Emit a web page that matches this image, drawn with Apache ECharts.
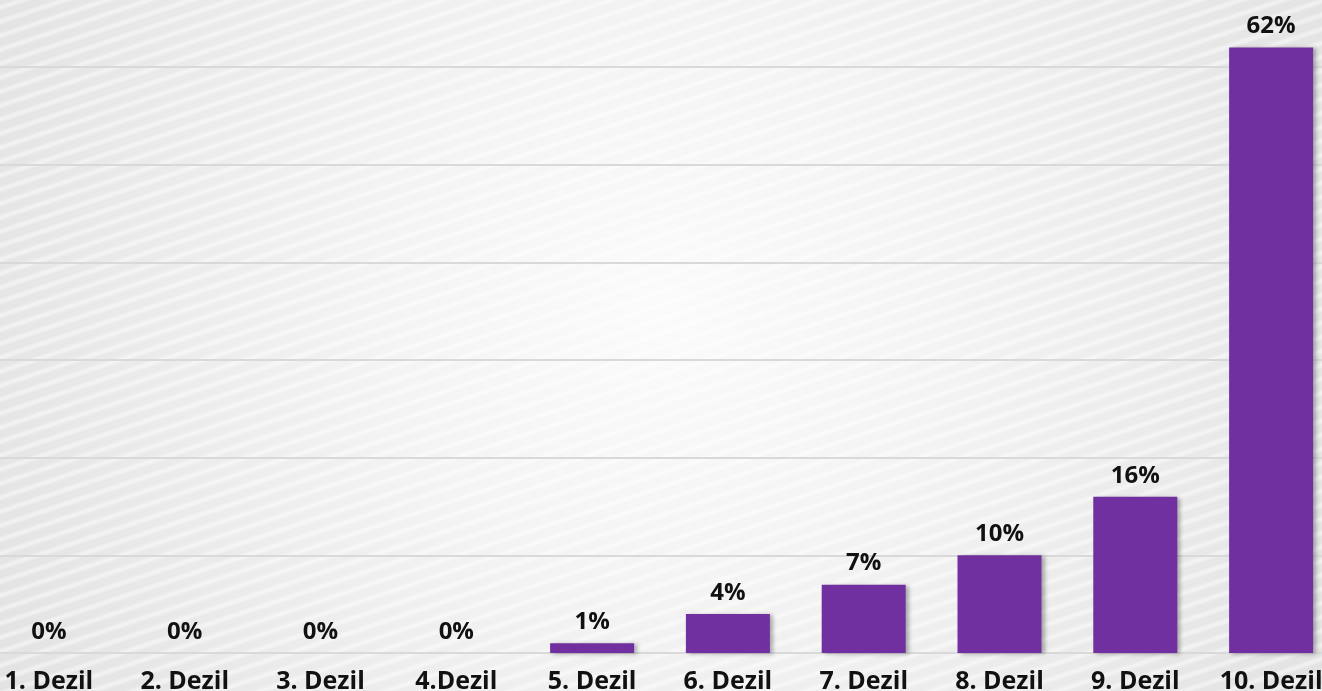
<!DOCTYPE html>
<html>
<head>
<meta charset="utf-8">
<script src="https://cdn.jsdelivr.net/npm/echarts@6/dist/echarts.min.js"></script>
<style>
  html, body { margin: 0; padding: 0; overflow: hidden; width: 1322px; height: 691px; position: relative; background: #ebebeb; }
  /* the plot is wider than the picture: bars 1 and 10 are cut at the edges */
  #chart { position: absolute; left: -19px; top: 0; width: 1358px; height: 691px; }
</style>
</head>
<body>
<div id="chart"></div>
<script>
const categories = ['1. Dezil', '2. Dezil', '3. Dezil', '4.Dezil', '5. Dezil', '6. Dezil', '7. Dezil', '8. Dezil', '9. Dezil', '10. Dezil']
const shares = [0, 0, 0, 0, 1, 4, 7, 10, 16, 62]
const yMax = 60
const yStep = 10

// soft diagonal stripes for the background
const makeStripes = () => {
    const c = document.createElement('canvas')
    c.width = 42
    c.height = 14
    const ctx = c.getContext('2d')
    const passes = [[7, 0.12], [5, 0.18], [3, 0.25]]
    for (const [w, a] of passes) {
        ctx.strokeStyle = 'rgba(255, 255, 255, ' + a + ')'
        ctx.lineWidth = w
        for (const dy of [-14, 0, 14]) {
            ctx.beginPath()
            ctx.moveTo(-42, 28 + dy)
            ctx.lineTo(84, -14 + dy)
            ctx.stroke()
        }
    }
    return c
}

const chart = echarts.init(document.getElementById('chart'))

chart.setOption({
    backgroundColor: new echarts.graphic.RadialGradient(0.5, 0.45, 1.1, [
        { offset: 0, color: '#fbfbfb' },
        { offset: 0.35, color: '#f4f4f4' },
        { offset: 1, color: '#e2e2e2' }
    ]),
    graphic: [{
        type: 'rect',
        silent: true,
        z: -100,
        shape: { x: 0, y: 0, width: 1358, height: 691 },
        style: { fill: { image: makeStripes(), repeat: 'repeat' } }
    }],
    // labels at the bottom run off the picture, so don't let the grid shrink for them
    grid: { left: 0, right: 0, top: 67, bottom: 38, containLabel: false, outerBoundsMode: 'none' },
    xAxis: {
        type: 'category',
        data: categories,
        axisLine: { show: true, lineStyle: { color: '#d9d9d9', width: 2 } },
        axisTick: { show: false },
        axisLabel: {
            interval: 0,
            margin: 16,
            color: '#111',
            fontFamily: 'Open Sans',
            fontWeight: 'bold',
            fontSize: 25
        }
    },
    yAxis: {
        type: 'value',
        min: 0,
        max: yMax,
        interval: yStep,
        axisLabel: { show: false },
        axisLine: { show: false },
        axisTick: { show: false },
        splitLine: { lineStyle: { color: '#d9d9d9', width: 2 } }
    },
    series: [{
        type: 'bar',
        data: shares,
        clip: false,
        barWidth: 84,
        itemStyle: {
            color: '#7030a0',
            shadowColor: 'rgba(0, 0, 0, 0.3)',
            shadowBlur: 4,
            shadowOffsetX: 3,
            shadowOffsetY: 1
        },
        label: {
            show: true,
            position: 'top',
            distance: 9,
            formatter: '{c}%',
            color: '#111',
            fontFamily: 'Open Sans',
            fontWeight: 'bold',
            fontSize: 24
        }
    }]
})
</script>
</body>
</html>
